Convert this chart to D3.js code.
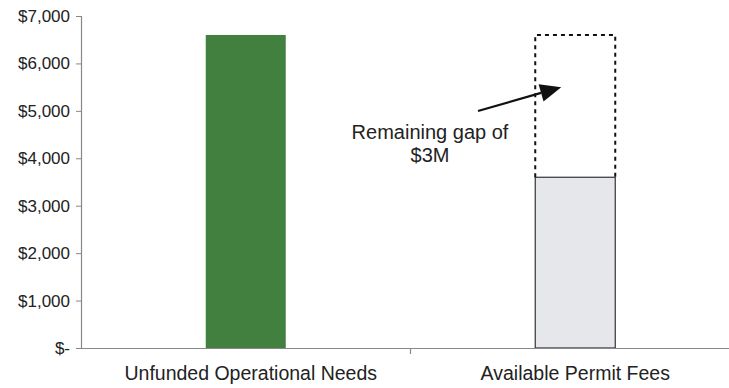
<!DOCTYPE html>
<html>
<head>
<meta charset="utf-8">
<script src="https://cdn.jsdelivr.net/npm/d3@7"></script>
<style>
  html, body { margin: 0; padding: 0; background: #fff; }
  svg { display: block; font-family: "Liberation Sans", Arial, sans-serif; }
</style>
</head>
<body>
<svg id="chart" width="729" height="388"></svg>
<script>
// Categories and values (thousands of dollars)
const categories = ["Unfunded Operational Needs", "Available Permit Fees"];
const barValues = [6600, 3600];
const barColors = ["#42803f", "#e6e7eb"];
const gapTarget = 6600; // dashed outline reaches the unfunded need
const yTicks = [0, 1000, 2000, 3000, 4000, 5000, 6000, 7000];
const annotation = ["Remaining gap of", "$3M"];

const svg = d3.select("#chart");
const margin = { left: 81, top: 16, bottom: 40 };
const plotRight = 740;
const height = 388;

const x = d3.scaleBand().domain(categories).range([margin.left, plotRight]).paddingInner(0).paddingOuter(0);
const y = d3.scaleLinear().domain([0, 7000]).range([height - margin.bottom, margin.top]);
const barW = 80;

const fmt = v => v === 0 ? "$-" : "$" + d3.format(",")(v);

// Y axis
const yAxis = svg.append("g")
  .attr("transform", `translate(${margin.left},0)`)
  .call(d3.axisLeft(y).tickValues(yTicks).tickFormat(fmt).tickSize(5).tickPadding(6));
yAxis.select(".domain").attr("stroke", "#888").attr("stroke-width", 1.2);
yAxis.selectAll(".tick line").attr("stroke", "#888");
yAxis.selectAll(".tick text").attr("fill", "#222").style("font-size", "17px")
  .style("font-family", "'Liberation Sans', Arial, sans-serif");

// Bars
const cx = d => x(d) + x.bandwidth() / 2;
svg.append("g").selectAll("rect").data(categories).join("rect")
  .attr("x", d => cx(d) - barW / 2)
  .attr("y", (d, i) => y(barValues[i]))
  .attr("width", barW)
  .attr("height", (d, i) => y(0) - y(barValues[i]))
  .attr("fill", (d, i) => barColors[i])
  .attr("stroke", (d, i) => i === 1 ? "#333" : "none")
  .attr("stroke-width", 1.2);

// Dashed outline of the remaining gap
const gx = cx(categories[1]);
svg.append("path")
  .attr("d", `M${gx - barW / 2},${y(barValues[1])} V${y(gapTarget)} H${gx + barW / 2} V${y(barValues[1])}`)
  .attr("fill", "none")
  .attr("stroke", "#111")
  .attr("stroke-width", 2)
  .attr("stroke-dasharray", "4,4");

// X axis
const xAxis = svg.append("g")
  .attr("transform", `translate(0,${y(0)})`)
  .call(d3.axisBottom(x).tickSize(0).tickPadding(18));
xAxis.select(".domain").attr("stroke", "#888").attr("stroke-width", 1.2);
xAxis.selectAll(".tick text").attr("fill", "#222").style("font-size", "19.5px")
  .style("font-family", "'Liberation Sans', Arial, sans-serif");
xAxis.selectAll(".tick").filter((d, i) => i === 0).select("text").attr("dx", 5);
// Divider tick between categories
svg.append("line")
  .attr("x1", x(categories[1])).attr("x2", x(categories[1]))
  .attr("y1", y(0)).attr("y2", y(0) + 6)
  .attr("stroke", "#888").attr("stroke-width", 1.2);

// Annotation arrow: shaft plus a filled triangular head
const start = [478, 111];
const tip = [gx - 14, y(5500)];
const ang = Math.atan2(tip[1] - start[1], tip[0] - start[0]);
const headLen = 21, headHalf = 9;
const base = [tip[0] - headLen * Math.cos(ang), tip[1] - headLen * Math.sin(ang)];
svg.append("line")
  .attr("x1", start[0]).attr("y1", start[1])
  .attr("x2", base[0]).attr("y2", base[1])
  .attr("stroke", "#111").attr("stroke-width", 2.2);
const nx = -Math.sin(ang), ny = Math.cos(ang);
svg.append("path")
  .attr("d", d3.line()([
    tip,
    [base[0] + nx * headHalf, base[1] + ny * headHalf],
    [base[0] - nx * headHalf, base[1] - ny * headHalf]
  ]) + "Z")
  .attr("fill", "#111");

const ann = svg.append("text")
  .attr("text-anchor", "middle")
  .attr("fill", "#222")
  .style("font-size", "20px");
annotation.forEach((t, i) => {
  ann.append("tspan").attr("x", 430).attr("y", 139 + i * 23).text(t);
});
</script>
</body>
</html>
